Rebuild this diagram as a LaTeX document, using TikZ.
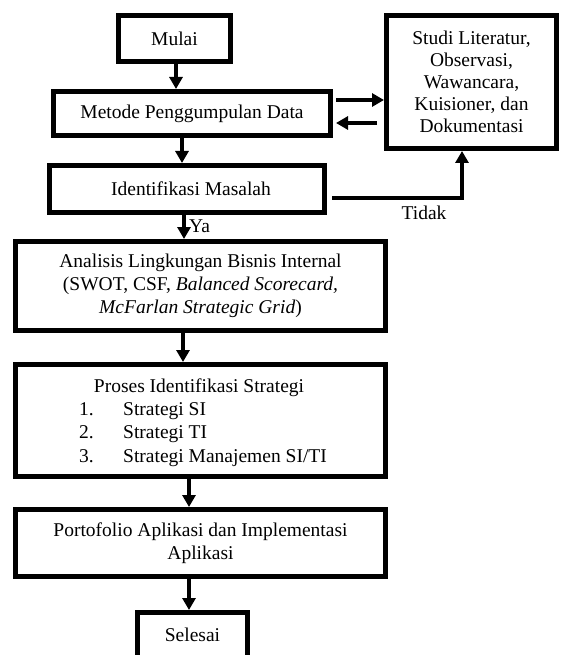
\documentclass[tikz,border=0pt]{standalone}
\usepackage{fontspec}
\setmainfont{Liberation Serif}
\usetikzlibrary{arrows.meta}
\begin{document}
\begin{tikzpicture}[x=1pt,y=-1pt,
  box/.style={draw, line width=4.8pt, rectangle, inner sep=0pt, align=center,
    font=\fontsize{19.5}{23}\selectfont},
  txt/.style={inner sep=0pt, font=\fontsize{19.5}{23}\selectfont},
  arr/.style={line width=3.2pt, -{Triangle[length=12pt,width=13pt]}},
]
\fill[white] (0,0) rectangle (560,655);
\useasboundingbox (0,0) rectangle (560,655);

\node[box, minimum width=112.2pt, minimum height=46.2pt] (mulai) at (174.5,38.5) {Mulai};
\node[box, minimum width=277.2pt, minimum height=44.2pt] (metode) at (192,113.5) {Metode Penggumpulan Data};
\node[box, minimum width=170.2pt, minimum height=133.2pt, font=\fontsize{19.5}{22}\selectfont] (studi) at (471.5,82)
  {Studi Literatur,\\Observasi,\\Wawancara,\\Kuisioner, dan\\Dokumentasi};
\node[box, minimum width=275.2pt, minimum height=47.2pt] (ident) at (187,189) {\hspace*{8pt}Identifikasi Masalah};
\node[box, minimum width=370.2pt, minimum height=89.2pt] (analisis) at (200.5,286)
  {Analisis Lingkungan Bisnis Internal\\(SWOT, CSF, \textit{Balanced Scorecard,}\\\textit{McFarlan Strategic Grid})};
\node[box, minimum width=370.2pt, minimum height=112.2pt] (proses) at (200.5,420.5) {};
\node[txt, anchor=base] (ptitle) at (199,392) {Proses Identifikasi Strategi};
\node[txt, anchor=base west] (n1) at (79,415) {1.};
\node[txt, anchor=base west] (s1) at (123,415) {Strategi SI};
\node[txt, anchor=base west] (n2) at (79,438.5) {2.};
\node[txt, anchor=base west] (s2) at (123,438.5) {Strategi TI};
\node[txt, anchor=base west] (n3) at (79,462) {3.};
\node[txt, anchor=base west] (s3) at (123,462) {Strategi Manajemen SI/TI};
\node[box, minimum width=370.2pt, minimum height=67.2pt] (porto) at (200.5,543)
  {Portofolio Aplikasi dan Implementasi\\Aplikasi};
\node[box, minimum width=110.2pt, minimum height=45.2pt] (selesai) at (192.5,635) {Selesai};

\draw[arr] (176,0 |- mulai.south) -- (176,0 |- metode.north);
\draw[arr] (182,0 |- metode.south) -- (182,0 |- ident.north);
\draw[arr] (184,0 |- ident.south) -- (184,0 |- analisis.north);
\node[txt, anchor=west] (ya) at (189,226) {Ya};
\draw[arr] (183,0 |- analisis.south) -- (183,0 |- proses.north);
\draw[arr] (189,0 |- proses.south) -- (189,0 |- porto.north);
\draw[arr] (189,0 |- porto.south) -- (189,0 |- selesai.north);

\draw[arr, shorten <=3pt] (metode.east |- 0,100) -- (studi.west |- 0,100);
\draw[arr, shorten <=7pt, shorten >=3pt] (studi.west |- 0,123) -- (metode.east |- 0,123);

\coordinate (turn) at (462,198);
\draw[arr, shorten <=5pt] (ident.east |- turn) -- (turn) -- (turn |- studi.south);
\node[txt] (tidak) at (424,213) {Tidak};
\end{tikzpicture}
\end{document}
